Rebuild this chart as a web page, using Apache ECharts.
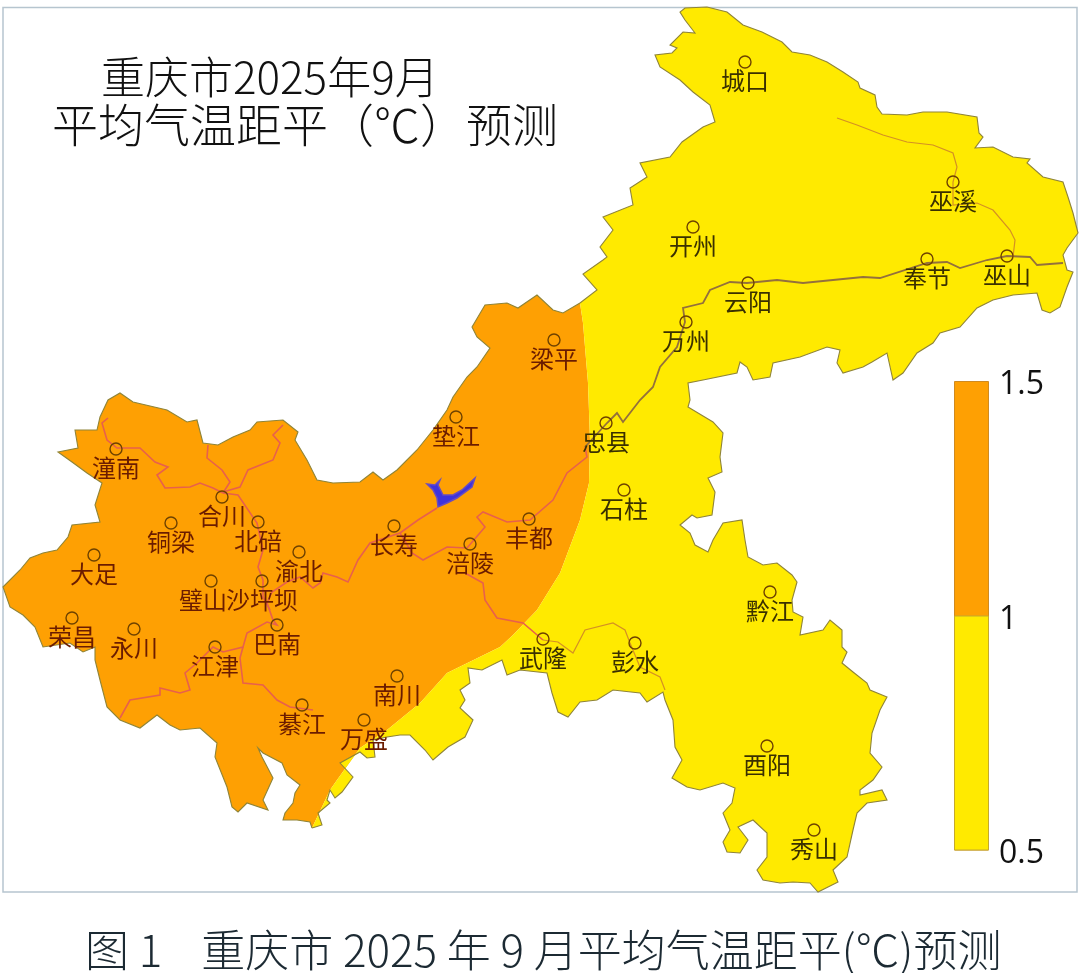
<!DOCTYPE html>
<html>
<head>
<meta charset="utf-8">
<title>重庆市2025年9月平均气温距平预测</title>
<script src="https://cdn.jsdelivr.net/npm/echarts@6/dist/echarts.min.js"></script>
<style>
html, body { margin: 0; padding: 0; background: #fff; }
#main { width: 1080px; height: 973px; }
</style>
</head>
<body>
<div id="main"></div>
<script>
// 所有地理坐标都是从图上读出来的(图片像素坐标)
var eastEdge = [[580,303],[597,290],[583,274],[603,260],[607,257],[600,247],[613,230],[603,217],[633,205],[630,188],[647,177],[640,163],[670,157],[682,142],[703,127],[715,122],[710,105],[693,92],[680,80],[660,67],[655,55],[672,53],[677,48],[670,45],[683,32],[695,33],[685,20],[680,12],[685,8],[707,7],[727,12],[743,25],[762,32],[782,42],[792,52],[810,55],[827,62],[843,72],[858,82],[860,88],[875,95],[877,107],[882,114],[907,115],[923,112],[947,112],[977,117],[979,133],[983,137],[975,148],[993,147],[1013,157],[1030,159],[1027,163],[1043,177],[1063,182],[1068,197],[1073,213],[1078,233],[1067,248],[1063,255],[1067,270],[1073,272],[1067,287],[1060,307],[1050,313],[1042,310],[1037,293],[1013,295],[993,300],[977,308],[960,327],[940,333],[933,343],[917,353],[903,373],[893,380],[887,353],[872,362],[863,367],[843,373],[837,363],[840,350],[827,347],[800,357],[773,363],[770,377],[753,380],[747,367],[740,362],[737,373],[703,380],[688,383],[690,400],[688,407],[713,422],[723,433],[720,457],[722,472],[708,478],[715,492],[712,515],[697,518],[692,515],[680,525],[690,533],[695,545],[708,552],[713,540],[723,523],[742,520],[745,540],[748,557],[763,565],[777,563],[792,575],[797,582],[792,600],[793,612],[803,617],[800,635],[823,630],[830,620],[842,630],[842,647],[847,652],[842,663],[853,672],[867,683],[870,690],[887,697],[880,710],[872,733],[870,753],[882,767],[873,780],[860,790],[860,795],[882,790],[887,800],[867,803],[857,813],[853,830],[847,857],[833,870],[838,882],[818,892],[810,883],[793,882],[780,883],[763,880],[757,870],[767,857],[767,833],[753,820],[738,827],[748,840],[740,853],[727,852],[723,842],[730,830],[723,813],[732,803],[735,788],[723,783],[700,790],[687,787],[672,778],[682,760],[675,747],[673,720],[665,700],[663,692],[647,702],[640,693],[613,690],[597,700],[580,702],[568,717],[558,712],[552,693],[547,673],[520,670],[507,675],[502,660],[482,670],[468,668],[470,683],[460,690],[465,700],[460,708],[473,720],[465,737],[448,747],[433,760],[425,750],[410,735],[400,735],[387,737],[373,740],[375,757],[367,758],[360,752],[340,763],[353,777],[342,792],[335,798],[330,790],[327,800],[330,803],[318,813],[322,825],[312,828]]
var westEdge = [[312,828],[310,822],[297,820],[283,820],[285,813],[293,803],[295,793],[300,785],[287,775],[282,763],[263,753],[258,748],[262,757],[273,778],[263,800],[268,810],[247,803],[238,812],[232,807],[227,787],[215,757],[217,743],[200,728],[180,730],[170,725],[157,715],[140,728],[120,720],[107,707],[100,680],[95,660],[95,647],[83,652],[70,643],[43,647],[35,627],[23,615],[10,607],[3,587],[20,570],[30,558],[43,553],[57,550],[68,537],[72,525],[100,522],[95,505],[102,483],[87,473],[72,462],[58,452],[78,448],[75,430],[97,430],[100,417],[108,400],[120,393],[133,402],[167,410],[187,422],[197,420],[203,443],[218,445],[233,437],[250,430],[257,422],[283,420],[298,432],[295,440],[307,460],[317,480],[333,483],[360,482],[373,472],[383,480],[397,470],[417,450],[433,430],[447,410],[453,397],[467,377],[477,367],[490,348],[477,337],[472,327],[485,305],[507,303],[518,308],[537,295],[553,310],[563,313],[580,303]]
// 1℃ 等值线, 从北到南
var isotherm = [[580,303],[583,323],[588,383],[590,440],[589,483],[580,520],[560,573],[537,610],[513,635],[500,647],[447,673],[420,703],[387,730],[360,748],[337,780],[330,790],[312,828]]
var lake = [[427,484],[435,485],[440,480],[438,485],[443,495],[453,495],[462,490],[475,478],[472,487],[457,498],[447,503],[438,507],[437,498],[433,490]]

var riversWest = [
    [[120,718],[130,700],[160,695],[160,688],[180,693],[190,690],[185,673],[197,663],[213,647],[223,652],[243,647],[247,633],[267,622],[277,625],[273,620],[267,603],[272,592],[287,582],[300,577],[313,588],[320,583],[323,573],[337,577],[348,582],[358,560],[370,543],[400,533],[412,553],[423,560],[447,547],[467,548],[485,527],[477,517],[483,512],[507,522],[530,520],[553,500],[567,473],[587,457],[585,447]],
    [[465,573],[483,583],[485,600],[497,618],[523,623],[543,640]],
    [[108,418],[102,423],[107,440],[117,448],[140,448],[155,462],[168,467],[157,475],[165,488],[190,487],[200,483],[213,488],[223,493]],
    [[208,445],[207,458],[222,470],[230,482],[223,493]],
    [[283,425],[273,435],[280,443],[273,460],[248,470],[240,487],[223,492]],
    [[223,493],[238,495],[257,523],[263,550],[258,567],[263,580],[263,597],[270,610]],
    [[243,647],[240,658],[243,683],[263,685],[277,700],[290,707],[313,710]],
    [[400,533],[418,520],[437,508]]
]
var riversEast = [
    [[585,447],[607,423],[617,413],[623,422],[640,400],[653,387],[660,367],[677,347],[685,322],[683,308],[703,303],[710,290],[730,282],[747,283],[777,280],[803,283],[863,277],[880,278],[927,263],[947,262],[960,268],[987,260],[1007,256],[1030,257],[1037,265],[1063,263]]
]
var riversThin = [
    [[543,640],[558,642],[573,653],[585,630],[613,623],[625,630],[630,643],[640,667],[660,677],[665,690]],
    [[837,118],[857,125],[883,135],[907,142],[933,145],[953,153],[957,167],[953,182],[953,205],[977,203],[993,210],[1010,230],[1015,240],[1013,257]]
]

var cityNames = ['城口','开州','巫溪','奉节','巫山','云阳','万州','梁平','垫江','忠县','石柱','长寿','涪陵','丰都','武隆','彭水','黔江','酉阳','秀山','南川','万盛','綦江','巴南','江津','永川','荣昌','大足','璧山','沙坪坝','渝北','北碚','合川','铜梁','潼南']
var cityX = [745,693,953,927,1007,748,686,554,456,606,624,394,470,529,543,635,770,767,814,397,364,302,277,215,134,72,94,211,262,299,258,222,171,116]
var cityY = [62,227,182,259,256,283,322,340,417,423,490,526,544,519,639,643,592,746,830,676,720,705,625,647,629,618,555,581,581,552,522,497,523,449]
var yellowCities = ['城口','开州','巫溪','奉节','巫山','云阳','万州','忠县','石柱','武隆','彭水','黔江','酉阳','秀山']

var legendTicks = [1.5, 1]  // 色标上下界 0.5 / 1 / 1.5
var colorOrange = '#FEA003'
var colorYellow = '#FFEA00'

function polygon(name, pts) {
    return {
        type: 'Feature',
        properties: { name: name },
        geometry: { type: 'Polygon', coordinates: [pts.concat([pts[0]])] }
    }
}

echarts.registerMap('cq', {
    type: 'FeatureCollection',
    features: [
        polygon('orange', westEdge.concat(isotherm.slice(1, -1))),
        polygon('yellow', eastEdge.concat(isotherm.slice(1, -1).reverse())),
        polygon('lake', lake)
    ]
})

function toLines(list) {
    return list.map(function (pts) { return { coords: pts } })
}

var cityData = cityNames.map(function (name, i) {
    var item = { name: name, value: [cityX[i], cityY[i]] }
    item.label = {
        color: yellowCities.indexOf(name) >= 0 ? '#3a3000' : '#6b1c00',
        offset: name == '璧山' ? [-8, 0] : [0, 0]
    }
    return item
})

var myChart = echarts.init(document.getElementById('main'))
var cjk = '"Noto Sans CJK SC"'

myChart.setOption({
    animation: false,
    backgroundColor: '#fff',
    title: [
        { text: '重庆市2025年9月', left: 96, top: 50, textStyle: { fontFamily: cjk, fontSize: 44, fontWeight: 300, color: '#111' } },
        { text: '平均气温距平（℃）预测', left: 47, top: 97, textStyle: { fontFamily: cjk, fontSize: 46, fontWeight: 300, color: '#111' } },
        { text: '图 1    重庆市 2025 年 9 月平均气温距平(℃)预测', left: 80, top: 923, textStyle: { fontFamily: cjk, fontSize: 44, fontWeight: 300, color: '#1c2a33' } }
    ],
    graphic: [{
        type: 'rect',
        silent: true,
        z: -1,
        shape: { x: 3, y: 7.5, width: 1074, height: 884.5 },
        style: { fill: 'none', stroke: '#b6c5cf', lineWidth: 1.5 }
    }],
    geo: {
        map: 'cq',
        silent: true,
        roam: false,
        projection: {
            project: function (p) { return [p[0], p[1]] },
            unproject: function (p) { return [p[0], p[1]] }
        },
        boundingCoords: [[0, 0], [1080, 973]],
        layoutCenter: ['50%', '50%'],
        layoutSize: 1080,
        label: { show: false },
        itemStyle: { areaColor: colorYellow, borderWidth: 0, borderColor: 'transparent' },
        regions: [
            { name: 'orange', itemStyle: { areaColor: colorOrange, borderWidth: 0 } },
            { name: 'yellow', itemStyle: { areaColor: colorYellow, borderWidth: 0 } },
            { name: 'lake', itemStyle: { areaColor: '#3f33dc', borderWidth: 1.5, borderColor: '#6a4cc0' } }
        ]
    },
    grid: { left: 954, top: 381, width: 35, height: 469 },
    xAxis: { type: 'category', show: false, data: ['距平'] },
    yAxis: {
        type: 'value',
        position: 'right',
        min: 0.5,
        max: 1.5,
        interval: 0.5,
        splitLine: { show: false },
        axisLine: { show: false },
        axisTick: { show: false },
        axisLabel: { margin: 10, verticalAlign: 'top', lineHeight: 8, fontFamily: '"Open Sans"', fontSize: 32, fontWeight: 500, color: '#111' }
    },
    series: [
        {
            name: '河流', type: 'lines', coordinateSystem: 'geo', polyline: true, silent: true,
            lineStyle: { color: '#e8604c', width: 1.6, opacity: 1 },
            data: toLines(riversWest), z: 3
        },
        {
            name: '长江', type: 'lines', coordinateSystem: 'geo', polyline: true, silent: true,
            lineStyle: { color: '#94703c', width: 1.8, opacity: 1 },
            data: toLines(riversEast), z: 3
        },
        {
            name: '支流', type: 'lines', coordinateSystem: 'geo', polyline: true, silent: true,
            lineStyle: { color: '#d49024', width: 1.2, opacity: 1 },
            data: toLines(riversThin), z: 3
        },
        {
            name: '边界', type: 'lines', coordinateSystem: 'geo', polyline: true, silent: true,
            lineStyle: { color: '#8f8438', width: 1.1, opacity: 1 },
            data: [{ coords: eastEdge }, { coords: westEdge }], z: 3
        },
        {
            name: '站点', type: 'scatter', coordinateSystem: 'geo', silent: true,
            symbol: 'circle', symbolSize: 12,
            itemStyle: { color: 'rgba(0,0,0,0)', borderColor: '#6e4200', borderWidth: 1.4, opacity: 1 },
            label: { show: true, position: 'bottom', distance: 0, formatter: '{b}', fontFamily: cjk, fontSize: 24 },
            data: cityData, z: 5
        },
        {
            name: '1-1.5', type: 'bar', barWidth: '100%', barGap: '-100%', silent: true,
            itemStyle: { color: colorOrange, borderColor: '#cf8a20', borderWidth: 1 },
            data: [legendTicks[0]]
        },
        {
            name: '0.5-1', type: 'bar', barWidth: '100%', barGap: '-100%', silent: true,
            itemStyle: { color: colorYellow, borderColor: '#c4a92e', borderWidth: 1 },
            data: [legendTicks[1]]
        }
    ]
})
</script>
</body>
</html>
